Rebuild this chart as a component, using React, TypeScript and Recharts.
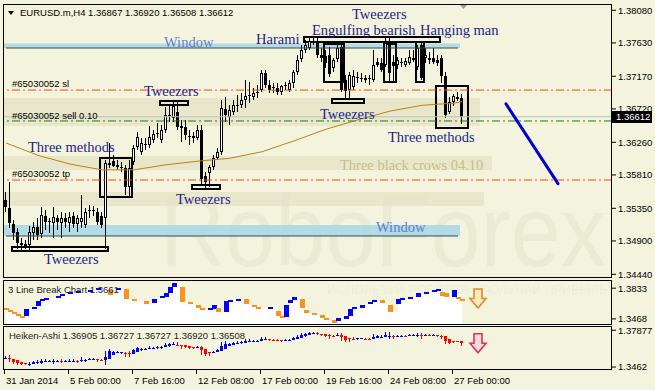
import React from 'react';
import {
  ComposedChart, Bar, Line, Area, XAxis, YAxis,
  ReferenceArea, ReferenceLine, ReferenceDot,
} from 'recharts';

// EURUSD H4, 31 Jan - 27 Feb 2014, one entry per bar
const opens = [
  1.3547, 1.3535, 1.3513, 1.3502, 1.3487, 1.3483, 1.3484, 1.3501, 1.3509, 1.3500,
  1.3524, 1.3516, 1.3515, 1.3522, 1.3515, 1.3522, 1.3515, 1.3524, 1.3513, 1.3516,
  1.3512, 1.3531, 1.3533, 1.3530, 1.3524, 1.3522, 1.3597, 1.3600, 1.3595, 1.3592,
  1.3591, 1.3564, 1.3599, 1.3620, 1.3613, 1.3622, 1.3622, 1.3629, 1.3637, 1.3629,
  1.3643, 1.3662, 1.3660, 1.3668, 1.3649, 1.3647, 1.3633, 1.3635, 1.3632, 1.3643,
  1.3580, 1.3584, 1.3592, 1.3604, 1.3613, 1.3672, 1.3661, 1.3668, 1.3677, 1.3677,
  1.3684, 1.3690, 1.3688, 1.3694, 1.3698, 1.3721, 1.3705, 1.3701, 1.3701, 1.3695,
  1.3704, 1.3698, 1.3708, 1.3723, 1.3741, 1.3753, 1.3756, 1.3766, 1.3764, 1.3746,
  1.3745, 1.3746, 1.3728, 1.3741, 1.3757, 1.3712, 1.3698, 1.3702, 1.3715, 1.3715,
  1.3712, 1.3713, 1.3712, 1.3737, 1.3735, 1.3733, 1.3763, 1.3737, 1.3733, 1.3737,
  1.3733, 1.3735, 1.3742, 1.3730, 1.3760, 1.3742, 1.3739, 1.3742, 1.3739, 1.3742,
  1.3717, 1.3668, 1.3682, 1.3688, 1.36867,
];
const highs = [
  1.3557, 1.3571, 1.3519, 1.3508, 1.3494, 1.3491, 1.3511, 1.3516, 1.3522, 1.3537,
  1.3533, 1.3522, 1.3537, 1.3526, 1.3530, 1.3528, 1.3530, 1.3530, 1.3526, 1.3553,
  1.3535, 1.3540, 1.3538, 1.3535, 1.3530, 1.3602, 1.3625, 1.3608, 1.3602, 1.3599,
  1.3595, 1.3602, 1.3622, 1.3640, 1.3632, 1.3632, 1.3648, 1.3643, 1.3652, 1.3650,
  1.3675, 1.3677, 1.3682, 1.3682, 1.3657, 1.3657, 1.3643, 1.3640, 1.3650, 1.3650,
  1.3585, 1.3595, 1.3608, 1.3618, 1.3684, 1.3688, 1.3677, 1.3684, 1.3691, 1.3694,
  1.3712, 1.3709, 1.3701, 1.3705, 1.3726, 1.3726, 1.3712, 1.3708, 1.3708, 1.3705,
  1.3709, 1.3712, 1.3726, 1.3746, 1.3760, 1.3767, 1.3770, 1.3771, 1.3770, 1.3756,
  1.3753, 1.3757, 1.3742, 1.3763, 1.3764, 1.3719, 1.3723, 1.3726, 1.3723, 1.3721,
  1.3719, 1.3719, 1.3753, 1.3742, 1.3742, 1.3770, 1.3770, 1.3746, 1.3744, 1.3742,
  1.3742, 1.3753, 1.3753, 1.3760, 1.3764, 1.3756, 1.3750, 1.3756, 1.3746, 1.3746,
  1.3723, 1.3688, 1.3692, 1.3695, 1.3692,
];
const lows = [
  1.3530, 1.3508, 1.3491, 1.3479, 1.3478, 1.3479, 1.3476, 1.3491, 1.3491, 1.3494,
  1.3505, 1.3502, 1.3494, 1.3505, 1.3494, 1.3508, 1.3502, 1.3508, 1.3502, 1.3508,
  1.3508, 1.3522, 1.3524, 1.3511, 1.3508, 1.3479, 1.3591, 1.3592, 1.3588, 1.3585,
  1.3553, 1.3553, 1.3595, 1.3615, 1.3608, 1.3615, 1.3618, 1.3625, 1.3632, 1.3625,
  1.3639, 1.3654, 1.3654, 1.3643, 1.3626, 1.3629, 1.3622, 1.3625, 1.3629, 1.3567,
  1.3563, 1.3564, 1.3588, 1.3602, 1.3608, 1.3654, 1.3650, 1.3664, 1.3668, 1.3673,
  1.3673, 1.3680, 1.3684, 1.3687, 1.3695, 1.3701, 1.3694, 1.3694, 1.3691, 1.3691,
  1.3698, 1.3695, 1.3701, 1.3719, 1.3737, 1.3749, 1.3753, 1.3760, 1.3742, 1.3737,
  1.3728, 1.3716, 1.3723, 1.3737, 1.3695, 1.3684, 1.3684, 1.3698, 1.3708, 1.3709,
  1.3708, 1.3705, 1.3709, 1.3730, 1.3723, 1.3730, 1.3709, 1.3709, 1.3728, 1.3730,
  1.3730, 1.3733, 1.3737, 1.3726, 1.3712, 1.3735, 1.3734, 1.3734, 1.3731, 1.3708,
  1.3660, 1.3664, 1.3676, 1.3682, 1.36508,
];
const closes = [
  1.3537, 1.3515, 1.3501, 1.3487, 1.3484, 1.3486, 1.3502, 1.3509, 1.3498, 1.3526,
  1.3516, 1.3517, 1.3523, 1.3516, 1.3522, 1.3516, 1.3523, 1.3513, 1.3522, 1.3522,
  1.3530, 1.3533, 1.3531, 1.3516, 1.3512, 1.3597, 1.3595, 1.3593, 1.3592, 1.3591,
  1.3564, 1.3591, 1.3618, 1.3633, 1.3625, 1.3623, 1.3633, 1.3637, 1.3639, 1.3643,
  1.3664, 1.3664, 1.3676, 1.3647, 1.3646, 1.3636, 1.3634, 1.3632, 1.3643, 1.3575,
  1.3571, 1.3592, 1.3604, 1.3613, 1.3673, 1.3664, 1.3671, 1.3677, 1.3676, 1.3684,
  1.3690, 1.3691, 1.3694, 1.3695, 1.3721, 1.3705, 1.3698, 1.3702, 1.3695, 1.3704,
  1.3705, 1.3708, 1.3723, 1.3739, 1.3753, 1.3760, 1.3766, 1.3764, 1.3746, 1.3742,
  1.3735, 1.3720, 1.3739, 1.3756, 1.3698, 1.3697, 1.3719, 1.3717, 1.3716, 1.3713,
  1.3715, 1.3714, 1.3733, 1.3733, 1.3726, 1.3763, 1.3721, 1.3731, 1.3739, 1.3735,
  1.3738, 1.3744, 1.3739, 1.3756, 1.3715, 1.3746, 1.3742, 1.3737, 1.3735, 1.3717,
  1.3664, 1.3682, 1.3690, 1.3686, 1.36612,
];

// moving average, sampled every 8 bars
const maBars = [0, 8, 16, 24, 32, 40, 48, 56, 64, 72, 80, 88, 96, 104, 112, 114];
const maValues = [1.3625, 1.3608, 1.3596, 1.3588, 1.3588, 1.3595, 1.3600, 1.3604,
  1.3613, 1.3628, 1.3644, 1.3657, 1.3669, 1.3677, 1.3680, 1.3682];

// 3 Line Break bricks (bar, from, to)
const lbBars = [
  0, 1, 2, 3, 4, 5, 7, 8, 9, 10,
  13, 14, 16, 18, 21, 23, 26, 28, 30, 32,
  35, 37, 39, 40, 41, 42, 44, 46, 48, 49,
  51, 52, 53, 55, 56, 58, 60, 62, 63, 66,
  68, 69, 70, 71, 72, 74, 75, 77, 79, 80,
  82, 83, 85, 86, 87, 89, 91, 92, 94, 96,
  98, 99, 101, 103, 105, 107, 108, 109, 110, 112,
  113, 114,
];
const lbFrom = [
  1.3602, 1.3578, 1.3553, 1.3529, 1.3505, 1.3505, 1.3590, 1.3614, 1.3675, 1.3699,
  1.3711, 1.3736, 1.3760, 1.3784, 1.3797, 1.3809, 1.3809, 1.3809, 1.3821, 1.3699,
  1.3675, 1.3651, 1.3711, 1.3724, 1.3772, 1.3845, 1.3845, 1.3663, 1.3638, 1.3602,
  1.3578, 1.3590, 1.3602, 1.3541, 1.3663, 1.3687, 1.3699, 1.3638, 1.3614, 1.3590,
  1.3565, 1.3505, 1.3492, 1.3651, 1.3687, 1.3699, 1.3578, 1.3541, 1.3517, 1.3480,
  1.3456, 1.3444, 1.3468, 1.3505, 1.3590, 1.3602, 1.3651, 1.3663, 1.3687, 1.3638,
  1.3638, 1.3699, 1.3711, 1.3724, 1.3760, 1.3784, 1.3809, 1.3784, 1.3772, 1.3724,
  1.3724, 1.3699,
];
const lbTo = [
  1.3578, 1.3553, 1.3529, 1.3505, 1.3486, 1.3590, 1.3614, 1.3675, 1.3699, 1.3711,
  1.3736, 1.3760, 1.3784, 1.3797, 1.3809, 1.3833, 1.3748, 1.3833, 1.3699, 1.3675,
  1.3638, 1.3699, 1.3736, 1.3772, 1.3845, 1.3894, 1.3663, 1.3638, 1.3602, 1.3578,
  1.3602, 1.3638, 1.3553, 1.3675, 1.3687, 1.3699, 1.3638, 1.3614, 1.3590, 1.3614,
  1.3505, 1.3480, 1.3638, 1.3687, 1.3724, 1.3590, 1.3541, 1.3517, 1.3480, 1.3456,
  1.3419, 1.3480, 1.3505, 1.3590, 1.3614, 1.3638, 1.3663, 1.3687, 1.3651, 1.3553,
  1.3699, 1.3711, 1.3724, 1.3772, 1.3784, 1.3809, 1.3821, 1.3736, 1.3724, 1.3809,
  1.3699, 1.3675,
];

const dateTicks = [0, 16, 32, 48, 64, 80, 96, 112];
const dateLabels = ['31 Jan 2014', '5 Feb 00:00', '7 Feb 16:00', '12 Feb 08:00',
  '17 Feb 00:00', '19 Feb 16:00', '24 Feb 08:00', '27 Feb 00:00'];

const priceTicks = [1.3444, 1.349, 1.3535, 1.3581, 1.3626, 1.3672, 1.3717, 1.3763, 1.3808];
const lbTicks = [1.3468, 1.3833];
const haTicks = [1.3462, 1.37877];

const lastPrice = 1.36612;
const slLevel = 1.3698;
const sellLevel = 1.36554;
const tpLevel = 1.3574;

// horizontal zones: [lo, hi, last bar]
const windowZones = [[1.3756, 1.37622, 113], [1.34968, 1.35119, 113]];
const shadeZones = [[1.36485, 1.36871, 118], [1.35878, 1.36071, 121], [1.35382, 1.35575, 119]];

// pattern boxes: [firstBar, lastBar, top, bottom]
const patternBoxes = [
  [2, 25, 1.34816, 1.34761],
  [24, 31, 1.36044, 1.35506],
  [39, 45, 1.36829, 1.36774],
  [47, 53, 1.35671, 1.35616],
  [75, 108, 1.37712, 1.37643],
  [80, 84, 1.37615, 1.37091],
  [82, 89, 1.36857, 1.36802],
  [95, 97, 1.37615, 1.37091],
  [103, 104, 1.37643, 1.37091],
  [108, 115, 1.37036, 1.36457],
];

const patternNotes = [
  { text: 'Harami', bar: 63, price: 1.37684 },
  { text: 'Tweezers', bar: 87, price: 1.38029 },
  { text: 'Engulfing bearish', bar: 77, price: 1.37808 },
  { text: 'Hanging man', bar: 104, price: 1.37808 },
  { text: 'Tweezers', bar: 35, price: 1.36967 },
  { text: 'Tweezers', bar: 79, price: 1.3665 },
  { text: 'Three methods', bar: 6, price: 1.36195 },
  { text: 'Three methods', bar: 96, price: 1.36333 },
  { text: 'Tweezers', bar: 43, price: 1.35478 },
  { text: 'Tweezers', bar: 10, price: 1.34651 },
];
const windowNotes = [
  { text: 'Window', bar: 40, price: 1.37643 },
  { text: 'Window', bar: 93, price: 1.35092 },
];
const crowsNote = { text: 'Three black crows 04.10', bar: 84, price: 1.35947 };
const orderNotes = [
  { text: '#65030052 sl', bar: 2, price: 1.37064 },
  { text: '#65030052 sell 0.10', bar: 2, price: 1.36623 },
  { text: '#65030052 tp', bar: 2, price: 1.35823 },
];

const trendLine = [{ bar: 125, price: 1.3679 }, { bar: 138, price: 1.3569 }];
const lbArrow = { bar: 118, price: 1.3711 };
const haArrow = { bar: 118, price: 1.3672 };

const SLOTS = 152; // visible bar slots incl. chart shift
const FONT = '"Liberation Sans", Arial, sans-serif';
const SERIF = '"Liberation Serif", "Times New Roman", serif';
const BG = '#F4F4DE';

// Heiken-Ashi rows derived from the candles above (the indicator's own rule)
const haO: number[] = [];
const haC: number[] = [];
opens.forEach((o, k) => {
  haC.push((o + highs[k] + lows[k] + closes[k]) / 4);
  haO.push(k === 0 ? (o + closes[0]) / 2 : (haO[k - 1] + haC[k - 1]) / 2);
});

let carry: number | null = null;
const rows = Array.from({ length: SLOTS }, (_, i) => {
  const has = i < opens.length;
  const m = maBars.indexOf(i);
  const b = lbBars.indexOf(i);
  if (b >= 0) carry = lbTo[b];
  return {
    i,
    o: has ? opens[i] : null,
    h: has ? highs[i] : null,
    l: has ? lows[i] : null,
    c: has ? closes[i] : null,
    ma: m >= 0 ? maValues[m] : null,
    lbLo: b >= 0 ? Math.min(lbFrom[b], lbTo[b]) : null,
    lbHi: b >= 0 ? Math.max(lbFrom[b], lbTo[b]) : null,
    lbUp: b >= 0 ? lbTo[b] > lbFrom[b] : null,
    lbLine: has ? carry : null,
    haO: has ? haO[i] : null,
    haC: has ? haC[i] : null,
    haH: has ? Math.max(highs[i], haO[i], haC[i]) : null,
    haL: has ? Math.min(lows[i], haO[i], haC[i]) : null,
  };
});

function makeCandle(ko: string, kh: string, kl: string, kc: string, heikin: boolean) {
  return (props: any) => {
    const { x, y, width, height, payload } = props;
    if (!payload || payload[ko] == null) return <g />;
    const o = payload[ko], hi = payload[kh], lo = payload[kl], c = payload[kc];
    const top = Math.min(y, y + height);
    const span = Math.abs(height);
    const yAt = (p: number) => top + (hi === lo ? 0 : ((hi - p) / (hi - lo)) * span);
    const cx = Math.floor(x + width / 2);
    const b1 = Math.round(Math.min(yAt(o), yAt(c)));
    const b2 = Math.max(b1 + 1, Math.round(Math.max(yAt(o), yAt(c))));
    const bull = c > o;
    const col = heikin ? (bull ? '#0000FF' : '#FF0000') : '#000';
    return (
      <g shapeRendering="crispEdges">
        <rect x={cx} y={Math.round(top)} width={1} height={Math.max(1, Math.round(span))} fill={col} />
        <rect x={cx - 1} y={b1} width={3} height={b2 - b1} fill={col} />
        {!heikin && bull && b2 - b1 > 2 && (
          <rect x={cx} y={b1 + 1} width={1} height={b2 - b1 - 2} fill="#fff" />
        )}
      </g>
    );
  };
}

function Brick(props: any) {
  const { x, y, height, payload } = props;
  if (!payload || payload.lbLo == null) return <g />;
  const top = Math.round(Math.min(y, y + height));
  const h = Math.max(2, Math.round(Math.abs(height)));
  return (
    <rect x={Math.round(x)} y={top} width={5} height={h}
      fill={payload.lbUp ? '#0000FF' : '#F7931E'} shapeRendering="crispEdges" />
  );
}

function arrowShape(stroke: string, fill: string) {
  return (p: any) => {
    const { cx, cy } = p;
    const pts = [
      [cx - 4, cy - 9.5], [cx + 4, cy - 9.5], [cx + 4, cy], [cx + 8, cy],
      [cx, cy + 9.5], [cx - 8, cy], [cx - 4, cy],
    ].map((q) => q.join(',')).join(' ');
    return <polygon points={pts} fill={fill} stroke={stroke} strokeWidth={1.6} strokeLinejoin="miter" />;
  };
}

function noteShape(text: string, font: string, size: number, color: string) {
  return (p: any) => (
    <text x={p.cx - 2} y={p.cy} dy="0.35em" fontFamily={font} fontSize={size} fill={color}>
      {text}
    </text>
  );
}

function DateTick(props: any) {
  const { x, y, payload } = props;
  const k = dateTicks.indexOf(payload.value);
  const bx = Math.round(x - 2) + 0.5;
  return (
    <g>
      <line x1={bx} x2={bx} y1={y - 4} y2={y} stroke="#000" />
      <text x={bx + 1.5} y={y + 9.5} fontFamily={FONT} fontSize={9.5} fill="#000">
        {dateLabels[k]}
      </text>
    </g>
  );
}

const axisTick = { fontSize: 9.5, fill: '#000', fontFamily: FONT };

export default function App() {
  const border = (top: number, height: number): React.CSSProperties => ({
    position: 'absolute', left: 3, top, width: 609, height,
    border: '1px solid #000', boxSizing: 'border-box', pointerEvents: 'none',
  });
  return (
    <div style={{ position: 'absolute', left: 0, top: 0, width: 655, height: 390, background: BG, overflow: 'hidden' }}>
      <svg width={655} height={390} style={{ position: 'absolute', left: 0, top: 0, pointerEvents: 'none' }}>
        <text x={160} y={266} fontFamily={FONT} fontSize={100} textLength={446}
          lengthAdjust="spacingAndGlyphs" fill="#5a5a28" fillOpacity={0.055}>RoboForex</text>
      </svg>

      <div style={{ position: 'absolute', left: 0, top: 0 }}>
        <ComposedChart width={655} height={282} data={rows}
          margin={{ top: 5, right: 0, bottom: 4, left: 4 }} barCategoryGap={0} barGap={0}>
          <XAxis dataKey="i" hide />
          <YAxis orientation="right" width={43} domain={[1.34389, 1.38153]} allowDataOverflow
            ticks={priceTicks} interval={0} tickFormatter={(v: number) => v.toFixed(5)}
            tick={axisTick} tickSize={4} tickLine={{ stroke: '#000' }} axisLine={false} />
          {shadeZones.map((z, k) => (
            <ReferenceArea key={'s' + k} x1={0} x2={z[2]} y1={z[0]} y2={z[1]}
              fill="#E5E4C9" fillOpacity={0.85} stroke="none" />
          ))}
          {windowZones.map((z, k) => (
            <ReferenceArea key={'w' + k} x1={0} x2={z[2]} y1={z[0]} y2={z[1]}
              fill="#ADD8E6" fillOpacity={0.92} stroke="none" />
          ))}
          {windowZones.map((z, k) => (
            <ReferenceLine key={'wl' + k} segment={[{ x: 0, y: z[0] }, { x: z[2], y: z[0] }]}
              stroke="#2F4F4F" strokeWidth={1} />
          ))}
          <ReferenceLine y={lastPrice} stroke="#C0C0C0" />
          <ReferenceLine y={slLevel} stroke="#FF4500" strokeDasharray="8 3 2 3" />
          <ReferenceLine y={tpLevel} stroke="#FF4500" strokeDasharray="8 3 2 3" />
          <ReferenceLine y={sellLevel} stroke="#1A7A1A" strokeDasharray="8 3 2 3" />
          <Bar dataKey={(d: any) => (d.h == null ? null : [d.l, d.h])} barSize={4}
            shape={makeCandle('o', 'h', 'l', 'c', false)} isAnimationActive={false} />
          <Line dataKey="ma" type="linear" stroke="#B8860B" strokeWidth={1} dot={false}
            connectNulls isAnimationActive={false} />
          {patternBoxes.map((b, k) => (
            <ReferenceArea key={'b' + k} x1={b[0]} x2={b[1]} y1={b[3]} y2={b[2]}
              fill="none" stroke="#000" strokeWidth={2} />
          ))}
          <ReferenceLine segment={trendLine.map((p) => ({ x: p.bar, y: p.price }))}
            stroke="#0000CC" strokeWidth={3} strokeLinecap="round" />
          {windowNotes.map((n, k) => (
            <ReferenceDot key={'wn' + k} x={n.bar} y={n.price} r={0}
              shape={noteShape(n.text, SERIF, 14.5, '#5D7FD6')} />
          ))}
          {patternNotes.map((n, k) => (
            <ReferenceDot key={'pn' + k} x={n.bar} y={n.price} r={0}
              shape={noteShape(n.text, SERIF, 14.5, '#1E1E8A')} />
          ))}
          <ReferenceDot x={crowsNote.bar} y={crowsNote.price} r={0}
            shape={noteShape(crowsNote.text, SERIF, 14.5, '#C8BE84')} />
          {orderNotes.map((n, k) => (
            <ReferenceDot key={'on' + k} x={n.bar} y={n.price} r={0}
              shape={noteShape(n.text, FONT, 9.5, '#000')} />
          ))}
          <ReferenceDot x={SLOTS - 1} y={lastPrice} r={0}
            shape={(p: any) => (
              <g>
                <rect x={612} y={Math.round(p.cy) - 6} width={40} height={12} fill="#000" />
                <text x={616} y={p.cy} dy="0.35em" fontFamily={FONT} fontSize={9.5} fill="#fff">
                  {lastPrice.toFixed(5)}
                </text>
              </g>
            )} />
        </ComposedChart>
      </div>

      <div style={{ position: 'absolute', left: 0, top: 280 }}>
        <ComposedChart width={655} height={45} data={rows}
          margin={{ top: 0, right: 0, bottom: 0, left: 4 }} barCategoryGap={0} barGap={0}>
          <XAxis dataKey="i" hide />
          <YAxis orientation="right" width={43} domain={[1.3395, 1.39303]} allowDataOverflow
            ticks={lbTicks} interval={0} tickFormatter={(v: number) => v.toFixed(4)}
            tick={axisTick} tickSize={4} tickLine={{ stroke: '#000' }} axisLine={false} />
          <Area type="stepAfter" dataKey="lbLine" fill="#FFFFFF" fillOpacity={1} stroke="none"
            baseValue={1.3395} isAnimationActive={false} />
          <Bar dataKey={(d: any) => (d.lbLo == null ? null : [d.lbLo, d.lbHi])} barSize={4}
            shape={Brick} isAnimationActive={false} />
          <ReferenceDot x={lbArrow.bar} y={lbArrow.price} r={0}
            shape={arrowShape('#D98B3A', '#F8EBB8')} />
        </ComposedChart>
      </div>

      <div style={{ position: 'absolute', left: 0, top: 326 }}>
        <ComposedChart width={655} height={64} data={rows}
          margin={{ top: 0, right: 0, bottom: 0, left: 4 }} barCategoryGap={0} barGap={0}>
          <XAxis dataKey="i" height={20} ticks={dateTicks} interval={0} tickSize={4} tickMargin={0}
            tickLine={false} axisLine={false} tick={(p: any) => <DateTick {...p} />} />
          <YAxis orientation="right" width={43} domain={[1.3436, 1.3825]} allowDataOverflow
            ticks={haTicks} interval={0} tickFormatter={(v: number) => String(v)}
            tick={axisTick} tickSize={4} tickLine={{ stroke: '#000' }} axisLine={false} />
          <Bar dataKey={(d: any) => (d.haO == null ? null : [d.haL, d.haH])} barSize={4}
            shape={makeCandle('haO', 'haH', 'haL', 'haC', true)} isAnimationActive={false} />
          <ReferenceDot x={haArrow.bar} y={haArrow.price} r={0}
            shape={arrowShape('#E0305A', '#F8DADA')} />
        </ComposedChart>
      </div>

      <svg width={655} height={390} style={{ position: 'absolute', left: 0, top: 0, pointerEvents: 'none' }}>
        <text x={327} y={294} fontFamily={FONT} fontSize={12.5} textLength={280}
          lengthAdjust="spacingAndGlyphs" fill="#8a8a6a" fillOpacity={0.08}>
          ИСПОЛЬЗУЙ РОБОТОВ - ПОЛУЧАЙ ПРИБЫЛЬ
        </text>
        <polygon points="8,11 14,11 11,15" fill="#000" />
        <text x={20} y={13} dy="0.35em" fontFamily={FONT} fontSize={9.5} fill="#000">
          EURUSD.m,H4 1.36867 1.36920 1.36508 1.36612
        </text>
        <polygon points="460,5 467,5 463.5,9" fill="#A0A0A0" />
        <text x={8} y={290} dy="0.35em" fontFamily={FONT} fontSize={9.5} fill="#222">
          3 Line Break Chart 1.3661
        </text>
        <text x={9} y={336} dy="0.35em" fontFamily={FONT} fontSize={9.5} fill="#222">
          Heiken-Ashi 1.36905 1.36727 1.36727 1.36920 1.36508
        </text>
      </svg>

      <div style={border(4, 274)} />
      <div style={border(280, 45)} />
      <div style={border(326, 44)} />
    </div>
  );
}
